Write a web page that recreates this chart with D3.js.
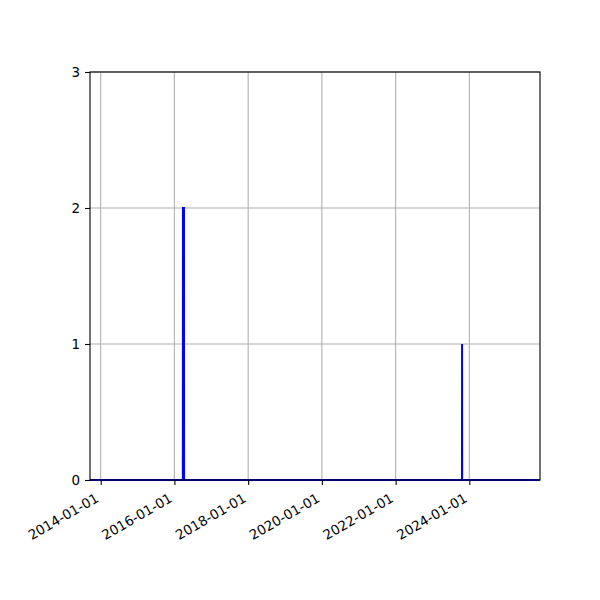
<!DOCTYPE html>
<html lang="en">
<head>
    <meta charset="UTF-8">
    <title>Spike Chart</title>
    <script src="https://d3js.org/d3.v7.min.js"></script>
    <style>
        body { margin: 0; background: #fff; }
        .axis text {
            font-family: "DejaVu Sans", sans-serif;
            font-size: 13.5px;
            fill: #000;
        }
        .axis path { display: none; }
        .axis line { stroke: #000; stroke-width: 1.1px; }
        .grid line { stroke: #b0b0b0; stroke-width: 1.1px; }
        .line { fill: none; stroke: #0000ff; stroke-width: 2px; }
        .frame { fill: none; stroke: #000; stroke-width: 1.1px; }
    </style>
</head>
<body>
    <div id="chart"></div>
    <script>
        // data
        var dates = ["2013-09-17", "2016-03-25", "2016-03-26", "2016-04-05", "2016-04-06",
                     "2023-10-20", "2023-10-21", "2023-10-22", "2025-12-01"];
        var values = [0, 0, 2, 2, 0, 0, 1, 0, 0];
        var yTicks = [0, 1, 2, 3];
        var xTicks = ["2014-01-01", "2016-01-01", "2018-01-01", "2020-01-01", "2022-01-01", "2024-01-01"];

        var margin = { top: 72, right: 60, bottom: 120, left: 90 },
            width = 600 - margin.left - margin.right,
            height = 600 - margin.top - margin.bottom;

        var parse = d3.timeParse("%Y-%m-%d");
        var data = dates.map(function (d, i) { return { time: parse(d), value: values[i] }; });

        var xScale = d3.scaleTime()
            .domain(d3.extent(data, function (d) { return d.time; }))
            .range([0, width]);

        var yScale = d3.scaleLinear()
            .domain([0, 3])
            .range([height, 0]);

        var svg = d3.select("#chart")
            .append("svg")
            .attr("width", 600)
            .attr("height", 600)
            .append("g")
            .attr("transform", "translate(" + margin.left + "," + margin.top + ")");

        var xTickDates = xTicks.map(parse);

        // grid
        svg.append("g")
            .attr("class", "grid")
            .selectAll("line")
            .data(xTickDates)
            .enter().append("line")
            .attr("x1", function (d) { return xScale(d); })
            .attr("x2", function (d) { return xScale(d); })
            .attr("y1", 0)
            .attr("y2", height);

        svg.append("g")
            .attr("class", "grid")
            .selectAll("line")
            .data(yTicks)
            .enter().append("line")
            .attr("x1", 0)
            .attr("x2", width)
            .attr("y1", function (d) { return yScale(d); })
            .attr("y2", function (d) { return yScale(d); });

        var line = d3.line()
            .x(function (d) { return xScale(d.time); })
            .y(function (d) { return yScale(d.value); });

        svg.append("path")
            .datum(data)
            .attr("class", "line")
            .attr("d", line);

        svg.append("rect")
            .attr("class", "frame")
            .attr("width", width)
            .attr("height", height);

        // axes
        svg.append("g")
            .attr("class", "axis")
            .call(d3.axisLeft(yScale)
                .tickValues(yTicks)
                .tickSize(4.9)
                .tickPadding(4.9)
                .tickFormat(d3.format("d")));

        var xAxis = svg.append("g")
            .attr("class", "axis")
            .attr("transform", "translate(0," + height + ")")
            .call(d3.axisBottom(xScale)
                .tickValues(xTickDates)
                .tickSize(4.9)
                .tickFormat(d3.timeFormat("%Y-%m-%d")));

        xAxis.selectAll("text")
            .attr("y", 0)
            .attr("dy", 0)
            .style("text-anchor", "end")
            .attr("transform", "translate(-1.6,21) rotate(-30)");
    </script>
</body>
</html>
